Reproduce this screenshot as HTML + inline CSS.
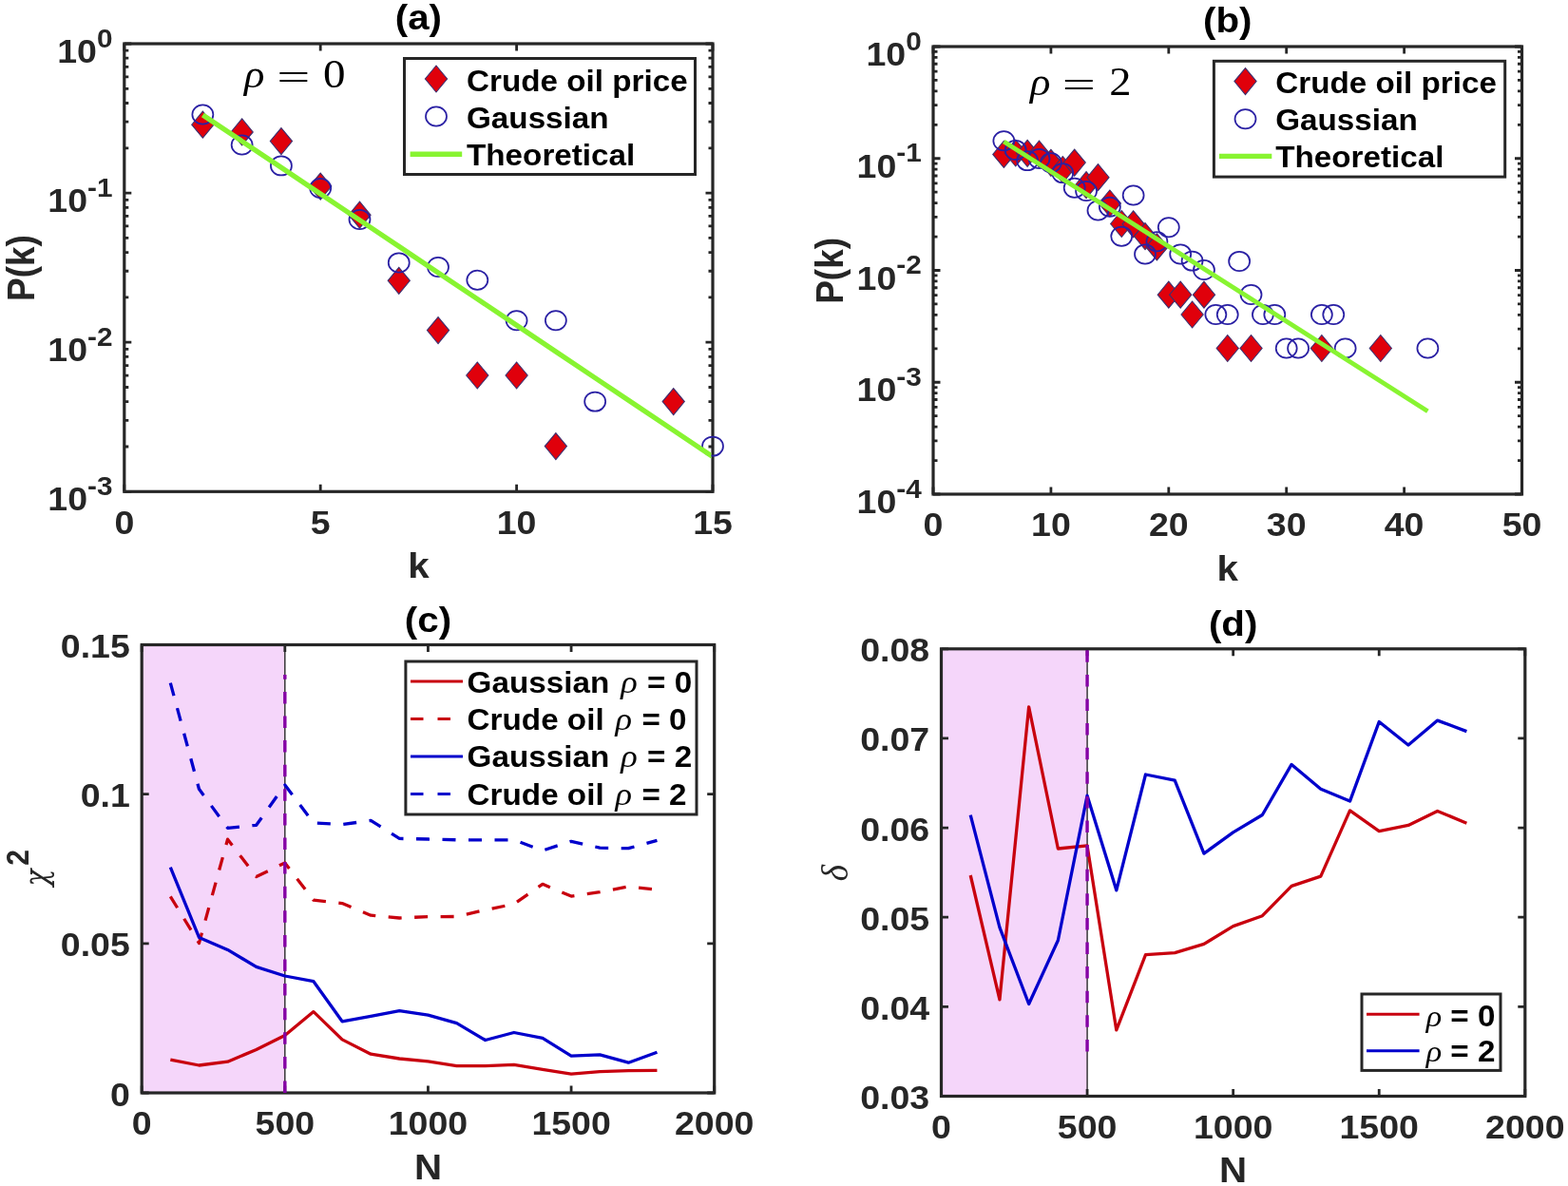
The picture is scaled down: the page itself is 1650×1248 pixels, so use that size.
<!DOCTYPE html><html><head><meta charset="utf-8"><style>html,body{margin:0;padding:0;background:#fff;}svg{display:block;}</style></head><body>
<svg width="1650" height="1248" viewBox="0 0 1650 1248">
<rect width="1650" height="1248" fill="#fff"/>
<path d="M130.80,517.30V509.80M130.80,46.00V53.50M337.20,517.30V509.80M337.20,46.00V53.50M543.60,517.30V509.80M543.60,46.00V53.50M750.00,517.30V509.80M750.00,46.00V53.50M130.80,517.30H138.30M750.00,517.30H742.50M130.80,360.20H138.30M750.00,360.20H742.50M130.80,203.10H138.30M750.00,203.10H742.50M130.80,46.00H138.30M750.00,46.00H742.50M130.80,470.01H135.30M750.00,470.01H745.50M130.80,442.34H135.30M750.00,442.34H745.50M130.80,422.72H135.30M750.00,422.72H745.50M130.80,407.49H135.30M750.00,407.49H745.50M130.80,395.05H135.30M750.00,395.05H745.50M130.80,384.54H135.30M750.00,384.54H745.50M130.80,375.42H135.30M750.00,375.42H745.50M130.80,367.39H135.30M750.00,367.39H745.50M130.80,312.91H135.30M750.00,312.91H745.50M130.80,285.24H135.30M750.00,285.24H745.50M130.80,265.62H135.30M750.00,265.62H745.50M130.80,250.39H135.30M750.00,250.39H745.50M130.80,237.95H135.30M750.00,237.95H745.50M130.80,227.44H135.30M750.00,227.44H745.50M130.80,218.32H135.30M750.00,218.32H745.50M130.80,210.29H135.30M750.00,210.29H745.50M130.80,155.81H135.30M750.00,155.81H745.50M130.80,128.14H135.30M750.00,128.14H745.50M130.80,108.52H135.30M750.00,108.52H745.50M130.80,93.29H135.30M750.00,93.29H745.50M130.80,80.85H135.30M750.00,80.85H745.50M130.80,70.34H135.30M750.00,70.34H745.50M130.80,61.22H135.30M750.00,61.22H745.50M130.80,53.19H135.30M750.00,53.19H745.50" stroke="#262626" stroke-width="2.8" fill="none"/>
<rect x="130.8" y="46.0" width="619.20" height="471.30" fill="none" stroke="#262626" stroke-width="3.2"/>
<clipPath id="ca"><rect x="132.4" y="47.6" width="616.00" height="468.10"/></clipPath>
<g fill="#E0000B" stroke="#3C3070" stroke-width="1.1"><path d="M213.36,117.20L224.96,131.20L213.36,145.20L201.76,131.20Z"/><path d="M254.64,124.90L266.24,138.90L254.64,152.90L243.04,138.90Z"/><path d="M295.92,134.60L307.52,148.60L295.92,162.60L284.32,148.60Z"/><path d="M337.20,182.10L348.80,196.10L337.20,210.10L325.60,196.10Z"/><path d="M378.48,212.20L390.08,226.20L378.48,240.20L366.88,226.20Z"/><path d="M419.76,281.30L431.36,295.30L419.76,309.30L408.16,295.30Z"/><path d="M461.04,333.60L472.64,347.60L461.04,361.60L449.44,347.60Z"/><path d="M502.32,381.00L513.92,395.00L502.32,409.00L490.72,395.00Z"/><path d="M543.60,381.00L555.20,395.00L543.60,409.00L532.00,395.00Z"/><path d="M584.88,455.60L596.48,469.60L584.88,483.60L573.28,469.60Z"/><path d="M708.72,408.60L720.32,422.60L708.72,436.60L697.12,422.60Z"/></g>
<g fill="none" stroke="#2A20A4" stroke-width="1.75"><ellipse cx="213.36" cy="120.50" rx="11.0" ry="10.1"/><ellipse cx="254.64" cy="152.50" rx="11.0" ry="10.1"/><ellipse cx="295.92" cy="174.40" rx="11.0" ry="10.1"/><ellipse cx="337.20" cy="198.00" rx="11.0" ry="10.1"/><ellipse cx="378.48" cy="231.00" rx="11.0" ry="10.1"/><ellipse cx="419.76" cy="276.40" rx="11.0" ry="10.1"/><ellipse cx="461.04" cy="281.00" rx="11.0" ry="10.1"/><ellipse cx="502.32" cy="294.80" rx="11.0" ry="10.1"/><ellipse cx="543.60" cy="337.20" rx="11.0" ry="10.1"/><ellipse cx="584.88" cy="337.20" rx="11.0" ry="10.1"/><ellipse cx="626.16" cy="422.60" rx="11.0" ry="10.1"/><ellipse cx="750.00" cy="469.60" rx="11.0" ry="10.1"/></g>
<polyline points="213.36,120.96 254.64,148.62 295.92,176.28 337.20,203.95 378.48,231.61 419.76,259.28 461.04,286.94 502.32,314.60 543.60,342.27 584.88,369.93 626.16,397.60 667.44,425.26 708.72,452.92 750.00,480.59" fill="none" stroke="#88F431" stroke-width="5.3" clip-path="url(#ca)"/>
<text transform="translate(130.80,561.60) scale(1.09,1)" font-family="Liberation Sans, sans-serif" font-size="34.4" font-weight="bold" text-anchor="middle" fill="#262626">0</text>
<text transform="translate(337.20,561.60) scale(1.09,1)" font-family="Liberation Sans, sans-serif" font-size="34.4" font-weight="bold" text-anchor="middle" fill="#262626">5</text>
<text transform="translate(543.60,561.60) scale(1.09,1)" font-family="Liberation Sans, sans-serif" font-size="34.4" font-weight="bold" text-anchor="middle" fill="#262626">10</text>
<text transform="translate(750.00,561.60) scale(1.09,1)" font-family="Liberation Sans, sans-serif" font-size="34.4" font-weight="bold" text-anchor="middle" fill="#262626">15</text>
<text transform="translate(118.50,66.00) scale(1.09,1)" font-family="Liberation Sans, sans-serif" font-size="34.4" font-weight="bold" text-anchor="end" fill="#262626">10<tspan font-size="27.3" dy="-16.5">0</tspan></text>
<text transform="translate(118.50,223.10) scale(1.09,1)" font-family="Liberation Sans, sans-serif" font-size="34.4" font-weight="bold" text-anchor="end" fill="#262626">10<tspan font-size="27.3" dy="-16.5">-1</tspan></text>
<text transform="translate(118.50,380.20) scale(1.09,1)" font-family="Liberation Sans, sans-serif" font-size="34.4" font-weight="bold" text-anchor="end" fill="#262626">10<tspan font-size="27.3" dy="-16.5">-2</tspan></text>
<text transform="translate(118.50,537.30) scale(1.09,1)" font-family="Liberation Sans, sans-serif" font-size="34.4" font-weight="bold" text-anchor="end" fill="#262626">10<tspan font-size="27.3" dy="-16.5">-3</tspan></text>
<text transform="translate(440.40,30.90) scale(1.09,1)" font-family="Liberation Sans, sans-serif" font-size="37" font-weight="bold" text-anchor="middle" fill="#000">(a)</text>
<text transform="translate(440.40,607.80) scale(1.09,1)" font-family="Liberation Sans, sans-serif" font-size="37" font-weight="bold" text-anchor="middle" fill="#262626">k</text>
<text transform="translate(35.70,282.10) scale(1.09,1) rotate(-90)" font-family="Liberation Sans, sans-serif" font-size="37" font-weight="bold" text-anchor="middle" fill="#262626">P(k)</text>
<text transform="translate(257.0,92) scale(1.09,1)" font-family="Liberation Serif, serif" font-size="41" font-style="italic" fill="#000">ρ</text>
<text transform="translate(291.2,95) scale(1.52,1)" font-family="Liberation Serif, serif" font-size="41" fill="#000">=</text>
<text transform="translate(340.0,92) scale(1.12,1)" font-family="Liberation Serif, serif" font-size="42" fill="#000">0</text>
<rect x="425.5" y="61.5" width="306" height="122" fill="#fff" stroke="#262626" stroke-width="3"/>
<path d="M459.00,69.00L470.60,83.00L459.00,97.00L447.40,83.00Z" fill="#E0000B" stroke="#3C3070" stroke-width="1.1"/>
<ellipse cx="459" cy="122.5" rx="11" ry="10.1" fill="none" stroke="#2A20A4" stroke-width="1.75"/>
<path d="M431.6,162.3H486.2" stroke="#88F431" stroke-width="5.4"/>
<text transform="translate(491.00,95.60) scale(1.09,1)" font-family="Liberation Sans, sans-serif" font-size="30.5" font-weight="bold" text-anchor="start" fill="#000">Crude oil price</text>
<text transform="translate(491.00,134.80) scale(1.09,1)" font-family="Liberation Sans, sans-serif" font-size="30.5" font-weight="bold" text-anchor="start" fill="#000">Gaussian</text>
<text transform="translate(491.00,173.60) scale(1.09,1)" font-family="Liberation Sans, sans-serif" font-size="30.5" font-weight="bold" text-anchor="start" fill="#000">Theoretical</text>
<path d="M982.00,520.00V512.50M982.00,49.00V56.50M1105.90,520.00V512.50M1105.90,49.00V56.50M1229.80,520.00V512.50M1229.80,49.00V56.50M1353.70,520.00V512.50M1353.70,49.00V56.50M1477.60,520.00V512.50M1477.60,49.00V56.50M1601.50,520.00V512.50M1601.50,49.00V56.50M982.00,520.00H989.50M1601.50,520.00H1594.00M982.00,402.25H989.50M1601.50,402.25H1594.00M982.00,284.50H989.50M1601.50,284.50H1594.00M982.00,166.75H989.50M1601.50,166.75H1594.00M982.00,49.00H989.50M1601.50,49.00H1594.00M982.00,484.55H986.50M1601.50,484.55H1597.00M982.00,463.82H986.50M1601.50,463.82H1597.00M982.00,449.11H986.50M1601.50,449.11H1597.00M982.00,437.70H986.50M1601.50,437.70H1597.00M982.00,428.37H986.50M1601.50,428.37H1597.00M982.00,420.49H986.50M1601.50,420.49H1597.00M982.00,413.66H986.50M1601.50,413.66H1597.00M982.00,407.64H986.50M1601.50,407.64H1597.00M982.00,366.80H986.50M1601.50,366.80H1597.00M982.00,346.07H986.50M1601.50,346.07H1597.00M982.00,331.36H986.50M1601.50,331.36H1597.00M982.00,319.95H986.50M1601.50,319.95H1597.00M982.00,310.62H986.50M1601.50,310.62H1597.00M982.00,302.74H986.50M1601.50,302.74H1597.00M982.00,295.91H986.50M1601.50,295.91H1597.00M982.00,289.89H986.50M1601.50,289.89H1597.00M982.00,249.05H986.50M1601.50,249.05H1597.00M982.00,228.32H986.50M1601.50,228.32H1597.00M982.00,213.61H986.50M1601.50,213.61H1597.00M982.00,202.20H986.50M1601.50,202.20H1597.00M982.00,192.87H986.50M1601.50,192.87H1597.00M982.00,184.99H986.50M1601.50,184.99H1597.00M982.00,178.16H986.50M1601.50,178.16H1597.00M982.00,172.14H986.50M1601.50,172.14H1597.00M982.00,131.30H986.50M1601.50,131.30H1597.00M982.00,110.57H986.50M1601.50,110.57H1597.00M982.00,95.86H986.50M1601.50,95.86H1597.00M982.00,84.45H986.50M1601.50,84.45H1597.00M982.00,75.12H986.50M1601.50,75.12H1597.00M982.00,67.24H986.50M1601.50,67.24H1597.00M982.00,60.41H986.50M1601.50,60.41H1597.00M982.00,54.39H986.50M1601.50,54.39H1597.00" stroke="#262626" stroke-width="2.8" fill="none"/>
<rect x="982.0" y="49.0" width="619.50" height="471.00" fill="none" stroke="#262626" stroke-width="3.2"/>
<g fill="#E0000B" stroke="#3C3070" stroke-width="1.1"><path d="M1056.34,148.40L1067.94,162.40L1056.34,176.40L1044.74,162.40Z"/><path d="M1068.73,147.00L1080.33,161.00L1068.73,175.00L1057.13,161.00Z"/><path d="M1081.12,147.30L1092.72,161.30L1081.12,175.30L1069.52,161.30Z"/><path d="M1093.51,148.20L1105.11,162.20L1093.51,176.20L1081.91,162.20Z"/><path d="M1105.90,157.30L1117.50,171.30L1105.90,185.30L1094.30,171.30Z"/><path d="M1118.29,164.50L1129.89,178.50L1118.29,192.50L1106.69,178.50Z"/><path d="M1130.68,157.10L1142.28,171.10L1130.68,185.10L1119.08,171.10Z"/><path d="M1143.07,180.70L1154.67,194.70L1143.07,208.70L1131.47,194.70Z"/><path d="M1155.46,172.70L1167.06,186.70L1155.46,200.70L1143.86,186.70Z"/><path d="M1167.85,200.00L1179.45,214.00L1167.85,228.00L1156.25,214.00Z"/><path d="M1180.24,221.50L1191.84,235.50L1180.24,249.50L1168.64,235.50Z"/><path d="M1192.63,221.80L1204.23,235.80L1192.63,249.80L1181.03,235.80Z"/><path d="M1205.02,234.60L1216.62,248.60L1205.02,262.60L1193.42,248.60Z"/><path d="M1217.41,245.90L1229.01,259.90L1217.41,273.90L1205.81,259.90Z"/><path d="M1229.80,296.20L1241.40,310.20L1229.80,324.20L1218.20,310.20Z"/><path d="M1242.19,296.20L1253.79,310.20L1242.19,324.20L1230.59,310.20Z"/><path d="M1254.58,317.00L1266.18,331.00L1254.58,345.00L1242.98,331.00Z"/><path d="M1266.97,296.20L1278.57,310.20L1266.97,324.20L1255.37,310.20Z"/><path d="M1291.75,352.50L1303.35,366.50L1291.75,380.50L1280.15,366.50Z"/><path d="M1316.53,352.50L1328.13,366.50L1316.53,380.50L1304.93,366.50Z"/><path d="M1390.87,352.50L1402.47,366.50L1390.87,380.50L1379.27,366.50Z"/><path d="M1452.82,352.50L1464.42,366.50L1452.82,380.50L1441.22,366.50Z"/></g>
<g fill="none" stroke="#2A20A4" stroke-width="1.75"><ellipse cx="1056.34" cy="148.20" rx="11.0" ry="10.1"/><ellipse cx="1068.73" cy="157.90" rx="11.0" ry="10.1"/><ellipse cx="1081.12" cy="169.10" rx="11.0" ry="10.1"/><ellipse cx="1093.51" cy="167.00" rx="11.0" ry="10.1"/><ellipse cx="1105.90" cy="171.20" rx="11.0" ry="10.1"/><ellipse cx="1118.29" cy="182.10" rx="11.0" ry="10.1"/><ellipse cx="1130.68" cy="197.80" rx="11.0" ry="10.1"/><ellipse cx="1143.07" cy="201.00" rx="11.0" ry="10.1"/><ellipse cx="1155.46" cy="221.50" rx="11.0" ry="10.1"/><ellipse cx="1167.85" cy="217.80" rx="11.0" ry="10.1"/><ellipse cx="1180.24" cy="248.70" rx="11.0" ry="10.1"/><ellipse cx="1192.63" cy="205.50" rx="11.0" ry="10.1"/><ellipse cx="1205.02" cy="267.40" rx="11.0" ry="10.1"/><ellipse cx="1217.41" cy="254.20" rx="11.0" ry="10.1"/><ellipse cx="1229.80" cy="239.30" rx="11.0" ry="10.1"/><ellipse cx="1242.19" cy="267.40" rx="11.0" ry="10.1"/><ellipse cx="1254.58" cy="274.60" rx="11.0" ry="10.1"/><ellipse cx="1266.97" cy="284.00" rx="11.0" ry="10.1"/><ellipse cx="1279.36" cy="331.00" rx="11.0" ry="10.1"/><ellipse cx="1291.75" cy="331.00" rx="11.0" ry="10.1"/><ellipse cx="1304.14" cy="274.90" rx="11.0" ry="10.1"/><ellipse cx="1316.53" cy="310.00" rx="11.0" ry="10.1"/><ellipse cx="1328.92" cy="331.00" rx="11.0" ry="10.1"/><ellipse cx="1341.31" cy="331.00" rx="11.0" ry="10.1"/><ellipse cx="1353.70" cy="366.50" rx="11.0" ry="10.1"/><ellipse cx="1366.09" cy="366.50" rx="11.0" ry="10.1"/><ellipse cx="1390.87" cy="331.00" rx="11.0" ry="10.1"/><ellipse cx="1403.26" cy="331.00" rx="11.0" ry="10.1"/><ellipse cx="1415.65" cy="366.50" rx="11.0" ry="10.1"/><ellipse cx="1502.38" cy="366.50" rx="11.0" ry="10.1"/></g>
<polyline points="1056.34,149.0 1502.38,432.8" fill="none" stroke="#88F431" stroke-width="4.9"/>
<text transform="translate(982.00,564.30) scale(1.09,1)" font-family="Liberation Sans, sans-serif" font-size="34.4" font-weight="bold" text-anchor="middle" fill="#262626">0</text>
<text transform="translate(1105.90,564.30) scale(1.09,1)" font-family="Liberation Sans, sans-serif" font-size="34.4" font-weight="bold" text-anchor="middle" fill="#262626">10</text>
<text transform="translate(1229.80,564.30) scale(1.09,1)" font-family="Liberation Sans, sans-serif" font-size="34.4" font-weight="bold" text-anchor="middle" fill="#262626">20</text>
<text transform="translate(1353.70,564.30) scale(1.09,1)" font-family="Liberation Sans, sans-serif" font-size="34.4" font-weight="bold" text-anchor="middle" fill="#262626">30</text>
<text transform="translate(1477.60,564.30) scale(1.09,1)" font-family="Liberation Sans, sans-serif" font-size="34.4" font-weight="bold" text-anchor="middle" fill="#262626">40</text>
<text transform="translate(1601.50,564.30) scale(1.09,1)" font-family="Liberation Sans, sans-serif" font-size="34.4" font-weight="bold" text-anchor="middle" fill="#262626">50</text>
<text transform="translate(969.70,69.00) scale(1.09,1)" font-family="Liberation Sans, sans-serif" font-size="34.4" font-weight="bold" text-anchor="end" fill="#262626">10<tspan font-size="27.3" dy="-16.5">0</tspan></text>
<text transform="translate(969.70,186.75) scale(1.09,1)" font-family="Liberation Sans, sans-serif" font-size="34.4" font-weight="bold" text-anchor="end" fill="#262626">10<tspan font-size="27.3" dy="-16.5">-1</tspan></text>
<text transform="translate(969.70,304.50) scale(1.09,1)" font-family="Liberation Sans, sans-serif" font-size="34.4" font-weight="bold" text-anchor="end" fill="#262626">10<tspan font-size="27.3" dy="-16.5">-2</tspan></text>
<text transform="translate(969.70,422.25) scale(1.09,1)" font-family="Liberation Sans, sans-serif" font-size="34.4" font-weight="bold" text-anchor="end" fill="#262626">10<tspan font-size="27.3" dy="-16.5">-3</tspan></text>
<text transform="translate(969.70,540.00) scale(1.09,1)" font-family="Liberation Sans, sans-serif" font-size="34.4" font-weight="bold" text-anchor="end" fill="#262626">10<tspan font-size="27.3" dy="-16.5">-4</tspan></text>
<text transform="translate(1291.75,33.90) scale(1.09,1)" font-family="Liberation Sans, sans-serif" font-size="37" font-weight="bold" text-anchor="middle" fill="#000">(b)</text>
<text transform="translate(1291.75,610.80) scale(1.09,1)" font-family="Liberation Sans, sans-serif" font-size="37" font-weight="bold" text-anchor="middle" fill="#262626">k</text>
<text transform="translate(887.00,284.90) scale(1.09,1) rotate(-90)" font-family="Liberation Sans, sans-serif" font-size="37" font-weight="bold" text-anchor="middle" fill="#262626">P(k)</text>
<text transform="translate(1084.0,100.3) scale(1.09,1)" font-family="Liberation Serif, serif" font-size="41" font-style="italic" fill="#000">ρ</text>
<text transform="translate(1117.8,103.3) scale(1.52,1)" font-family="Liberation Serif, serif" font-size="41" fill="#000">=</text>
<text transform="translate(1167.3,99.5) scale(1.08,1)" font-family="Liberation Serif, serif" font-size="43" fill="#000">2</text>
<rect x="1277.4" y="64.3" width="306.3" height="121.8" fill="#fff" stroke="#262626" stroke-width="3"/>
<path d="M1310.50,71.60L1322.10,85.60L1310.50,99.60L1298.90,85.60Z" fill="#E0000B" stroke="#3C3070" stroke-width="1.1"/>
<ellipse cx="1310.5" cy="125.2" rx="11" ry="10.1" fill="none" stroke="#2A20A4" stroke-width="1.75"/>
<path d="M1283,164.4H1338.3" stroke="#88F431" stroke-width="5.4"/>
<text transform="translate(1342.20,98.40) scale(1.09,1)" font-family="Liberation Sans, sans-serif" font-size="30.5" font-weight="bold" text-anchor="start" fill="#000">Crude oil price</text>
<text transform="translate(1342.20,136.60) scale(1.09,1)" font-family="Liberation Sans, sans-serif" font-size="30.5" font-weight="bold" text-anchor="start" fill="#000">Gaussian</text>
<text transform="translate(1342.20,176.00) scale(1.09,1)" font-family="Liberation Sans, sans-serif" font-size="30.5" font-weight="bold" text-anchor="start" fill="#000">Theoretical</text>
<rect x="149.2" y="678.5" width="150.62" height="471.50" fill="#F5D6FA"/>
<path d="M299.82,678.5V1150.0" stroke="#2a2a2a" stroke-width="1.4"/>
<polyline points="179.32,1115.10 209.45,1121.00 239.57,1117.20 269.70,1104.50 299.82,1089.60 329.95,1064.60 360.07,1093.90 390.20,1109.20 420.32,1114.00 450.45,1116.90 480.57,1121.60 510.70,1121.60 540.83,1120.40 570.95,1125.40 601.08,1130.10 631.20,1127.60 661.33,1126.70 691.45,1126.40" fill="none" stroke="#C8000E" stroke-width="3.3" stroke-linejoin="round"/>
<polyline points="179.32,943.30 209.45,992.50 239.57,883.20 269.70,922.50 299.82,908.00 329.95,947.20 360.07,950.60 390.20,963.20 420.32,966.00 450.45,964.60 480.57,964.50 510.70,957.50 540.83,951.30 570.95,930.30 601.08,943.10 631.20,938.70 661.33,932.90 691.45,936.20" fill="none" stroke="#C8000E" stroke-width="3.3" stroke-linejoin="round" stroke-dasharray="14 13.5"/>
<polyline points="179.32,912.60 209.45,986.40 239.57,999.40 269.70,1017.40 299.82,1027.00 329.95,1032.70 360.07,1074.80 390.20,1069.40 420.32,1063.70 450.45,1068.20 480.57,1076.70 510.70,1094.50 540.83,1086.50 570.95,1092.40 601.08,1111.10 631.20,1109.80 661.33,1118.20 691.45,1107.20" fill="none" stroke="#0000CC" stroke-width="3.3" stroke-linejoin="round"/>
<polyline points="179.32,718.60 209.45,830.30 239.57,871.30 269.70,868.30 299.82,826.10 329.95,865.90 360.07,867.60 390.20,863.40 420.32,882.40 450.45,883.00 480.57,883.80 510.70,883.80 540.83,883.80 570.95,895.00 601.08,885.30 631.20,892.10 661.33,892.70 691.45,884.40" fill="none" stroke="#0000CC" stroke-width="3.3" stroke-linejoin="round" stroke-dasharray="14 13.5"/>
<path d="M149.20,1150.00V1142.50M149.20,678.50V686.00M299.82,1150.00V1142.50M299.82,678.50V686.00M450.45,1150.00V1142.50M450.45,678.50V686.00M601.08,1150.00V1142.50M601.08,678.50V686.00M751.70,1150.00V1142.50M751.70,678.50V686.00M149.20,1150.00H156.70M751.70,1150.00H744.20M149.20,992.83H156.70M751.70,992.83H744.20M149.20,835.67H156.70M751.70,835.67H744.20M149.20,678.50H156.70M751.70,678.50H744.20" stroke="#262626" stroke-width="2.8" fill="none"/>
<rect x="149.2" y="678.5" width="602.50" height="471.50" fill="none" stroke="#262626" stroke-width="3.2"/>
<path d="M299.82,1150.0V710" stroke="#8500A5" stroke-width="3.4" stroke-dasharray="12.5 13.1"/>
<text transform="translate(149.20,1194.30) scale(1.09,1)" font-family="Liberation Sans, sans-serif" font-size="34.4" font-weight="bold" text-anchor="middle" fill="#262626">0</text>
<text transform="translate(299.82,1194.30) scale(1.09,1)" font-family="Liberation Sans, sans-serif" font-size="34.4" font-weight="bold" text-anchor="middle" fill="#262626">500</text>
<text transform="translate(450.45,1194.30) scale(1.09,1)" font-family="Liberation Sans, sans-serif" font-size="34.4" font-weight="bold" text-anchor="middle" fill="#262626">1000</text>
<text transform="translate(601.08,1194.30) scale(1.09,1)" font-family="Liberation Sans, sans-serif" font-size="34.4" font-weight="bold" text-anchor="middle" fill="#262626">1500</text>
<text transform="translate(751.70,1194.30) scale(1.09,1)" font-family="Liberation Sans, sans-serif" font-size="34.4" font-weight="bold" text-anchor="middle" fill="#262626">2000</text>
<text transform="translate(136.80,1163.50) scale(1.09,1)" font-family="Liberation Sans, sans-serif" font-size="34.4" font-weight="bold" text-anchor="end" fill="#262626">0</text>
<text transform="translate(136.80,1006.33) scale(1.09,1)" font-family="Liberation Sans, sans-serif" font-size="34.4" font-weight="bold" text-anchor="end" fill="#262626">0.05</text>
<text transform="translate(136.80,849.17) scale(1.09,1)" font-family="Liberation Sans, sans-serif" font-size="34.4" font-weight="bold" text-anchor="end" fill="#262626">0.1</text>
<text transform="translate(136.80,692.00) scale(1.09,1)" font-family="Liberation Sans, sans-serif" font-size="34.4" font-weight="bold" text-anchor="end" fill="#262626">0.15</text>
<text transform="translate(450.45,665.30) scale(1.09,1)" font-family="Liberation Sans, sans-serif" font-size="37" font-weight="bold" text-anchor="middle" fill="#000">(c)</text>
<text transform="translate(450.45,1241.10) scale(1.09,1)" font-family="Liberation Sans, sans-serif" font-size="37" font-weight="bold" text-anchor="middle" fill="#262626">N</text>
<text transform="translate(49.5,932.5) scale(1.09,1) rotate(-90) scale(0.925,1)" font-family="DejaVu Serif, serif" font-size="32" font-style="italic" fill="#262626">χ</text>
<text transform="translate(29.8,910.8) scale(1.09,1) rotate(-90)" font-family="Liberation Sans, sans-serif" font-size="30" font-weight="bold" fill="#262626">2</text>
<rect x="426.9" y="696" width="306.1" height="161" fill="#fff" stroke="#262626" stroke-width="3"/>
<path d="M432,717H487" stroke="#C8000E" stroke-width="3"/>
<path d="M432,756.6H487" stroke="#C8000E" stroke-width="3" stroke-dasharray="13.5 15"/>
<path d="M432,796H487" stroke="#0000CC" stroke-width="3"/>
<path d="M432,835.4H487" stroke="#0000CC" stroke-width="3" stroke-dasharray="13.5 15"/>
<text transform="translate(491.60,729.00) scale(1.09,1)" font-family="Liberation Sans, sans-serif" font-size="30.5" font-weight="bold" text-anchor="start" fill="#000">Gaussian <tspan dx="2.5" font-size="33.5" font-family="Liberation Serif, serif" font-weight="normal" font-style="italic">ρ</tspan><tspan dx="1"> </tspan>= 0</text>
<text transform="translate(491.60,768.00) scale(1.09,1)" font-family="Liberation Sans, sans-serif" font-size="30.5" font-weight="bold" text-anchor="start" fill="#000">Crude oil <tspan dx="2.5" font-size="33.5" font-family="Liberation Serif, serif" font-weight="normal" font-style="italic">ρ</tspan><tspan dx="1"> </tspan>= 0</text>
<text transform="translate(491.60,807.40) scale(1.09,1)" font-family="Liberation Sans, sans-serif" font-size="30.5" font-weight="bold" text-anchor="start" fill="#000">Gaussian <tspan dx="2.5" font-size="33.5" font-family="Liberation Serif, serif" font-weight="normal" font-style="italic">ρ</tspan><tspan dx="1"> </tspan>= 2</text>
<text transform="translate(491.60,847.00) scale(1.09,1)" font-family="Liberation Sans, sans-serif" font-size="30.5" font-weight="bold" text-anchor="start" fill="#000">Crude oil <tspan dx="2.5" font-size="33.5" font-family="Liberation Serif, serif" font-weight="normal" font-style="italic">ρ</tspan><tspan dx="1"> </tspan>= 2</text>
<rect x="990.5" y="682.8" width="153.58" height="470.70" fill="#F5D6FA"/>
<path d="M1144.08,682.8V1153.5" stroke="#2a2a2a" stroke-width="1.4"/>
<polyline points="1021.22,921.00 1051.93,1051.90 1082.64,743.80 1113.36,893.00 1144.08,889.90 1174.79,1083.90 1205.50,1004.70 1236.22,1002.60 1266.93,993.40 1297.65,974.60 1328.37,963.70 1359.08,932.40 1389.80,922.10 1420.51,852.90 1451.22,874.70 1481.94,868.40 1512.65,853.40 1543.37,866.20" fill="none" stroke="#C8000E" stroke-width="3.3" stroke-linejoin="round"/>
<polyline points="1021.22,857.60 1051.93,975.80 1082.64,1056.50 1113.36,989.50 1144.08,837.20 1174.79,936.80 1205.50,815.00 1236.22,821.10 1266.93,898.10 1297.65,875.80 1328.37,857.50 1359.08,804.40 1389.80,830.30 1420.51,843.10 1451.22,759.50 1481.94,784.00 1512.65,758.10 1543.37,769.60" fill="none" stroke="#0000CC" stroke-width="3.3" stroke-linejoin="round"/>
<path d="M990.50,1153.50V1146.00M990.50,682.80V690.30M1144.08,1153.50V1146.00M1144.08,682.80V690.30M1297.65,1153.50V1146.00M1297.65,682.80V690.30M1451.22,1153.50V1146.00M1451.22,682.80V690.30M1604.80,1153.50V1146.00M1604.80,682.80V690.30M990.50,1153.50H998.00M1604.80,1153.50H1597.30M990.50,1059.36H998.00M1604.80,1059.36H1597.30M990.50,965.22H998.00M1604.80,965.22H1597.30M990.50,871.08H998.00M1604.80,871.08H1597.30M990.50,776.94H998.00M1604.80,776.94H1597.30M990.50,682.80H998.00M1604.80,682.80H1597.30" stroke="#262626" stroke-width="2.8" fill="none"/>
<rect x="990.5" y="682.8" width="614.30" height="470.70" fill="none" stroke="#262626" stroke-width="3.2"/>
<path d="M1144.08,1106.4V682.8" stroke="#8500A5" stroke-width="3.4" stroke-dasharray="12.5 13.1"/>
<text transform="translate(990.50,1197.80) scale(1.09,1)" font-family="Liberation Sans, sans-serif" font-size="34.4" font-weight="bold" text-anchor="middle" fill="#262626">0</text>
<text transform="translate(1144.08,1197.80) scale(1.09,1)" font-family="Liberation Sans, sans-serif" font-size="34.4" font-weight="bold" text-anchor="middle" fill="#262626">500</text>
<text transform="translate(1297.65,1197.80) scale(1.09,1)" font-family="Liberation Sans, sans-serif" font-size="34.4" font-weight="bold" text-anchor="middle" fill="#262626">1000</text>
<text transform="translate(1451.22,1197.80) scale(1.09,1)" font-family="Liberation Sans, sans-serif" font-size="34.4" font-weight="bold" text-anchor="middle" fill="#262626">1500</text>
<text transform="translate(1604.80,1197.80) scale(1.09,1)" font-family="Liberation Sans, sans-serif" font-size="34.4" font-weight="bold" text-anchor="middle" fill="#262626">2000</text>
<text transform="translate(978.10,1167.00) scale(1.09,1)" font-family="Liberation Sans, sans-serif" font-size="34.4" font-weight="bold" text-anchor="end" fill="#262626">0.03</text>
<text transform="translate(978.10,1072.86) scale(1.09,1)" font-family="Liberation Sans, sans-serif" font-size="34.4" font-weight="bold" text-anchor="end" fill="#262626">0.04</text>
<text transform="translate(978.10,978.72) scale(1.09,1)" font-family="Liberation Sans, sans-serif" font-size="34.4" font-weight="bold" text-anchor="end" fill="#262626">0.05</text>
<text transform="translate(978.10,884.58) scale(1.09,1)" font-family="Liberation Sans, sans-serif" font-size="34.4" font-weight="bold" text-anchor="end" fill="#262626">0.06</text>
<text transform="translate(978.10,790.44) scale(1.09,1)" font-family="Liberation Sans, sans-serif" font-size="34.4" font-weight="bold" text-anchor="end" fill="#262626">0.07</text>
<text transform="translate(978.10,696.30) scale(1.09,1)" font-family="Liberation Sans, sans-serif" font-size="34.4" font-weight="bold" text-anchor="end" fill="#262626">0.08</text>
<text transform="translate(1297.65,668.90) scale(1.09,1)" font-family="Liberation Sans, sans-serif" font-size="37" font-weight="bold" text-anchor="middle" fill="#000">(d)</text>
<text transform="translate(1297.65,1244.40) scale(1.09,1)" font-family="Liberation Sans, sans-serif" font-size="37" font-weight="bold" text-anchor="middle" fill="#262626">N</text>
<text transform="translate(892.3,927.2) scale(1.09,1) rotate(-90)" font-family="Liberation Serif, serif" font-size="37" font-style="italic" fill="#262626">δ</text>
<rect x="1433" y="1046" width="146" height="80.4" fill="#fff" stroke="#262626" stroke-width="3"/>
<path d="M1438,1067.2H1493.6" stroke="#C8000E" stroke-width="3"/>
<path d="M1438,1105.7H1493.6" stroke="#0000CC" stroke-width="3"/>
<text transform="translate(1498.00,1079.70) scale(1.09,1)" font-family="Liberation Sans, sans-serif" font-size="30.5" font-weight="bold" text-anchor="start" fill="#000"><tspan dx="2.5" font-size="31.5" font-family="Liberation Serif, serif" font-weight="normal" font-style="italic">ρ</tspan><tspan dx="-0.1"> </tspan>= 0</text>
<text transform="translate(1498.00,1116.80) scale(1.09,1)" font-family="Liberation Sans, sans-serif" font-size="30.5" font-weight="bold" text-anchor="start" fill="#000"><tspan dx="2.5" font-size="31.5" font-family="Liberation Serif, serif" font-weight="normal" font-style="italic">ρ</tspan><tspan dx="-0.1"> </tspan>= 2</text>
</svg></body></html>
